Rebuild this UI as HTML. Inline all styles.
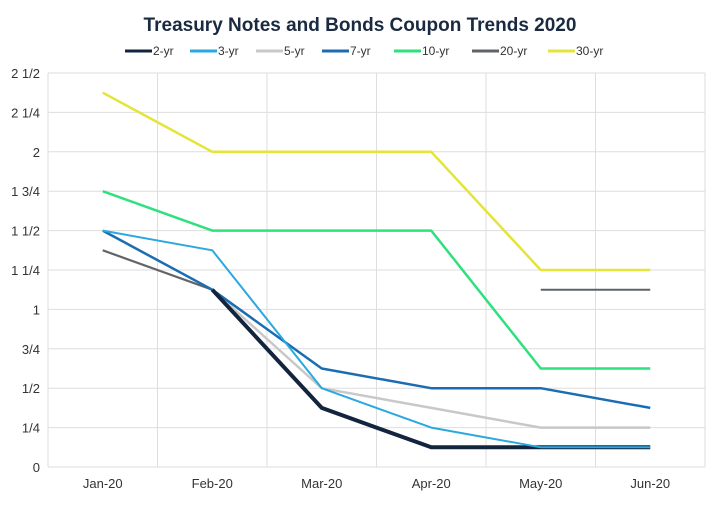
<!DOCTYPE html>
<html><head><meta charset="utf-8"><style>
body{margin:0;background:#fff;width:720px;height:500px;overflow:hidden;font-family:"Liberation Sans",sans-serif}
</style></head><body>
<svg id="c" width="720" height="500">
<text x="360" y="31" text-anchor="middle" font-size="19" font-weight="bold" fill="#1a2a40">Treasury Notes and Bonds Coupon Trends 2020</text>
<g id="grid"></g><g id="lines"></g><g id="legend"></g><g id="axes"></g>
</svg>
<script>
const categories=["Jan-20","Feb-20","Mar-20","Apr-20","May-20","Jun-20"];
const seriesNames=["2-yr","3-yr","5-yr","7-yr","10-yr","20-yr","30-yr"];
const s2=[null,1.125,0.375,0.125,0.125,0.125];
const s3=[1.5,1.375,0.5,0.25,0.125,0.125];
const s5=[1.375,1.125,0.5,0.375,0.25,0.25];
const s7=[1.5,1.125,0.625,0.5,0.5,0.375];
const s10=[1.75,1.5,1.5,1.5,0.625,0.625];
const s20=[1.375,1.125,null,null,1.125,1.125];
const s30=[2.375,2,2,2,1.25,1.25];
const yTicks=[0,0.25,0.5,0.75,1,1.25,1.5,1.75,2,2.25,2.5];
const yTickLabels=["0","1/4","1/2","3/4","1","1 1/4","1 1/2","1 3/4","2","2 1/4","2 1/2"];
const colors=["#13243f","#2aa8e0","#c8c8c8","#1a6db3","#2ee07e","#5f6368","#e4e43a"];
const widths=[4,2,2.5,2.5,2.5,2,2.5];
const all=[s2,s3,s5,s7,s10,s20,s30];
const L=48,R=705,T=73,B=467,band=(R-L)/categories.length;
const x=i=>L+band*(i+0.5);
const y=v=>B-(v/2.5)*(B-T);
const NS="http://www.w3.org/2000/svg";
function mk(tag,attrs,parent){const e=document.createElementNS(NS,tag);for(const k in attrs)e.setAttribute(k,attrs[k]);parent.appendChild(e);return e;}
const grid=document.getElementById('grid'),lines=document.getElementById('lines'),axes=document.getElementById('axes'),legend=document.getElementById('legend');
yTicks.forEach((t,i)=>{
 const g=mk('line',{x1:L,x2:R,y1:y(t),y2:y(t),stroke:'#dedede','stroke-width':1},grid);
 
 
 const tx=mk('text',{x:40,y:y(t)+5,'text-anchor':'end','font-size':13,fill:'#333'},axes);
 tx.textContent=yTickLabels[i];
 
 
});
for(let i=0;i<=categories.length;i++){
 const g=mk('line',{x1:L+band*i,x2:L+band*i,y1:T,y2:B,stroke:'#dedede','stroke-width':1},grid);
 
 
}
categories.forEach((c,i)=>{
 const tx=mk('text',{x:x(i),y:488,'text-anchor':'middle','font-size':13,fill:'#333'},axes);
 tx.textContent=c;
 
 
});
const order=[6,4,2,5,3,0,1];
order.forEach(k=>{
 const d=all[k];let segs=[],cur=[];
 d.forEach((v,i)=>{if(v===null){if(cur.length)segs.push(cur);cur=[];}else cur.push(x(i)+','+y(v));});
 if(cur.length)segs.push(cur);
 segs.forEach(sg=>{
  const p=mk('polyline',{points:sg.join(' '),fill:'none',stroke:colors[k],'stroke-width':widths[k],'stroke-linejoin':'round'},lines);
  
  
 });
});
const lx=[125,190,256,322,394,472,548];
seriesNames.forEach((n,i)=>{
 const l=mk('line',{x1:lx[i],x2:lx[i]+27,y1:51,y2:51,stroke:colors[i],'stroke-width':3},legend);
 
 
 const t=mk('text',{x:lx[i]+28,y:55,'font-size':12,fill:'#333'},legend);
 t.textContent=n;
 
 
});
</script>
</body></html>
